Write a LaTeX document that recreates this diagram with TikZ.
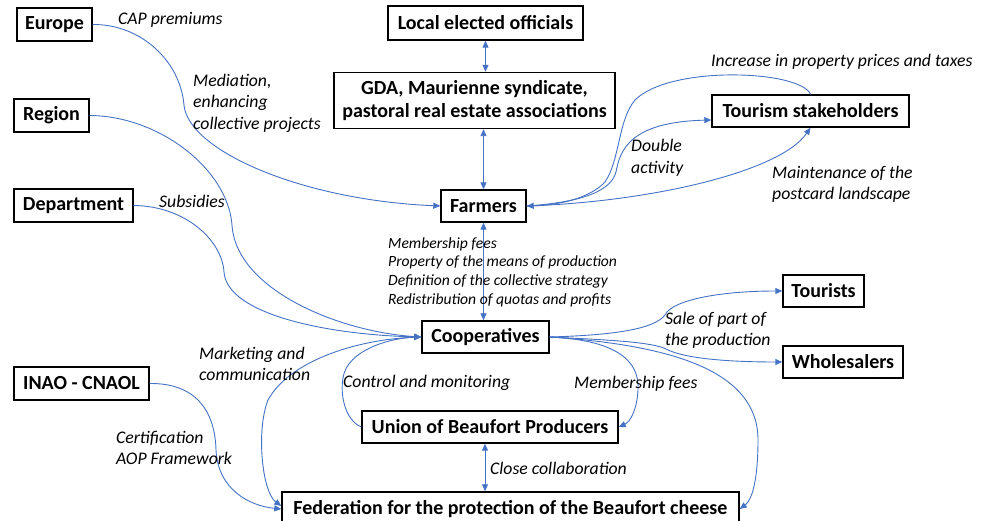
\documentclass[tikz,border=0pt]{standalone}
\usepackage{fontspec}
\setmainfont{Carlito}[ItalicFont={Carlito Italic},BoldFont={Carlito Bold},BoldItalicFont={Carlito Bold Italic}]
\usetikzlibrary{arrows.meta}
\definecolor{lnk}{HTML}{4472C4}
\tikzset{
  box/.style={draw=black, line width=1.4pt, font=\bfseries\fontsize{20}{23}\selectfont, inner sep=0pt, align=center, fill=white},
  lbl/.style={font=\itshape\fontsize{17.7}{21.5}\selectfont, inner sep=0pt, align=left, anchor=west},
  sml/.style={font=\itshape\fontsize{15.6}{18.7}\selectfont, inner sep=0pt, align=left, anchor=west},
  link/.style={draw=lnk, line width=0.9pt, -{Triangle[length=7pt,width=6pt]}},
  dlink/.style={draw=lnk, line width=0.9pt, {Triangle[length=7pt,width=6pt]}-{Triangle[length=7pt,width=6pt]}},
}
\begin{document}
\begin{tikzpicture}[x=1pt,y=-1pt]
\useasboundingbox (0,0) rectangle (989,521);
% nodes
\node[box, minimum width=75pt, minimum height=33pt] (europe) at (54.5,24.5) {Europe};
\node[box, minimum width=75pt, minimum height=33pt] (region) at (51.5,115.5) {Region};
\node[box, minimum width=119pt, minimum height=33pt] (dept) at (73.5,205.5) {Department};
\node[box, minimum width=135pt, minimum height=33pt] (inao) at (81.5,383.5) {INAO - CNAOL};
\node[box, minimum width=195pt, minimum height=34pt] (local) at (485.5,23) {Local elected officials};
\node[box, minimum width=281pt, minimum height=56pt] (gda) at (474.5,100.5) {GDA, Maurienne syndicate,\\pastoral real estate associations};
\node[box, minimum width=85pt, minimum height=32pt] (farmers) at (483.5,206) {Farmers};
\node[box, minimum width=197pt, minimum height=32pt] (tourism) at (810.5,111) {Tourism stakeholders};
\node[box, minimum width=81pt, minimum height=32pt] (tourists) at (823.5,291) {Tourists};
\node[box, minimum width=120pt, minimum height=32pt] (wholesalers) at (843,362) {Wholesalers};
\node[box, minimum width=127pt, minimum height=32pt] (coop) at (485.5,337) {Cooperatives};
\node[box, minimum width=256pt, minimum height=32pt] (union) at (490,427) {Union of Beaufort Producers};
\node[box, minimum width=457pt, minimum height=34pt] (fed) at (510.5,509) {Federation for the protection of the Beaufort cheese};

% vertical double arrows
\draw[dlink] (local.south) -- (local.south |- gda.north);
\draw[dlink] (farmers.north) -- (farmers.north |- gda.south);
\draw[dlink] (farmers.south) -- (farmers.south |- coop.north);
\draw[dlink] ([xshift=-5pt]union.south) -- ([xshift=-5pt]union.south |- fed.north);

% curves to farmers
\draw[link] (europe.east) .. controls (140,24) and (180,60) .. (184,105) .. controls (188,150) and (300,200) .. (farmers.west);
\draw[link] (tourism.north) .. controls (800,70) and (670,65) .. (635,100) .. controls (618,120) and (620,160) .. (605,182) .. controls (590,198) and (560,205) .. (farmers.east);
\draw[link] (farmers.east) .. controls (570,203) and (610,195) .. (616,172) .. controls (620,150) and (630,122) .. ([yshift=-9pt]tourism.west);
\draw[link] (farmers.east) .. controls (650,202) and (780,172) .. (tourism.south);

% curves to cooperatives
\draw[link] (region.east) .. controls (160,116) and (228,170) .. (232,225) .. controls (236,290) and (340,332) .. (coop.west);
\draw[link] (dept.east) .. controls (185,206) and (222,240) .. (224,272) .. controls (227,315) and (330,335) .. (coop.west);
\draw[link] (union.west) .. controls (345,420) and (340,395) .. (343,378) .. controls (347,350) and (390,338) .. (coop.west);
\draw[link] (coop.west) .. controls (360,338) and (290,360) .. (268,400) .. controls (256,430) and (262,492) .. ([yshift=3pt]fed.west);
\draw[link] (inao.east) .. controls (195,383) and (215,410) .. (216,450) .. controls (218,490) and (250,506) .. (fed.west);

% from cooperatives to the right
\draw[link] (coop.east) .. controls (620,335) and (655,328) .. (665,315) .. controls (672,300) and (720,291) .. (tourists.west);
\draw[link] (coop.east) .. controls (610,340) and (655,342) .. (668,350) .. controls (690,360) and (740,362) .. (wholesalers.west);
\draw[link] (coop.east) .. controls (670,345) and (758,370) .. (758,440) .. controls (758,480) and (752,500) .. (fed.east);
\draw[link] (coop.east) .. controls (615,340) and (640,360) .. (638,390) .. controls (637,410) and (630,422) .. (union.east);

% labels
\node[lbl] (l1) at (118,20) {CAP premiums};
\node[lbl] (l2) at (193,103) {Mediation,\\enhancing\\collective projects};
\node[lbl] (l3) at (159,201) {Subsidies};
\node[lbl] (l4) at (711,62) {Increase in property prices and taxes};
\node[lbl] (l5) at (631,158) {Double\\activity};
\node[lbl] (l6) at (772,184.5) {Maintenance of the\\postcard landscape};
\node[sml] (l7) at (388,272) {Membership fees\\Property of the means of production\\Definition of the collective strategy\\Redistribution of quotas and profits};
\node[lbl] (l8) at (665,330.5) {Sale of part of\\the production};
\node[lbl] (l9) at (199,364) {Marketing and\\communication};
\node[lbl] (l10) at (343,383) {Control and monitoring};
\node[lbl] (l11) at (574,384) {Membership fees};
\node[lbl] (l12) at (116,448) {Certification\\AOP Framework};
\node[lbl] (l13) at (490,468) {Close collaboration};
\end{tikzpicture}
\end{document}
